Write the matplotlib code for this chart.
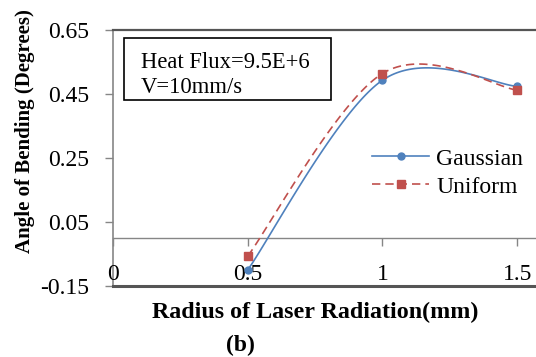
import numpy as np
import matplotlib
matplotlib.use("Agg")
import matplotlib.pyplot as plt
from matplotlib.patches import Rectangle

# data
radius = [0.5, 1.0, 1.5]
gaussian = [-0.10, 0.493, 0.474]
uniform = [-0.057, 0.514, 0.462]
yticks = [-0.15, 0.05, 0.25, 0.45, 0.65]
ytick_labels = ["-0.15", "0.05", "0.25", "0.45", "0.65"]
xticks = [0, 0.5, 1, 1.5]
xtick_labels = ["0", "0.5", "1", "1.5"]


def smooth(x, y, n=60):
    # Excel-like smoothed line: cubic bezier through points, tension 1/6
    x = np.asarray(x, float)
    y = np.asarray(y, float)
    pts = np.column_stack([x, y])
    out = []
    for i in range(len(pts) - 1):
        p0 = pts[i - 1] if i > 0 else pts[i]
        p1 = pts[i]
        p2 = pts[i + 1]
        p3 = pts[i + 2] if i + 2 < len(pts) else pts[i + 1]
        c1 = p1 + (p2 - p0) / 6
        c2 = p2 - (p3 - p1) / 6
        t = np.linspace(0, 1, n)[:, None]
        seg = ((1 - t) ** 3) * p1 + 3 * ((1 - t) ** 2) * t * c1 + 3 * (1 - t) * t ** 2 * c2 + t ** 3 * p2
        out.append(seg)
    seg = np.vstack(out)
    return seg[:, 0], seg[:, 1]


plt.rcParams['font.family'] = ['Liberation Serif', 'DejaVu Serif']

blue = '#4F81BD'
red = '#C0504D'
grey = '#868686'

fig = plt.figure(figsize=(5.36, 3.57), dpi=100)
ax = fig.add_axes([0.2108, 0.199, 0.7892, 0.717])
ax.set_xlim(0, 1.57)
ax.set_ylim(-0.15, 0.65)

gx, gy = smooth(radius, gaussian)
ux, uy = smooth(radius, uniform)
ax.plot(gx, gy, color=blue, lw=1.2, zorder=3)
ax.plot(radius, gaussian, 'o', color=blue, ms=5, zorder=4)
ax.plot(ux, uy, color=red, lw=1.2, ls=(0, (5, 3)), zorder=3)
ax.plot(radius, uniform, 's', color=red, ms=6, zorder=4)

# spines
ax.spines['right'].set_visible(False)
ax.spines['top'].set_color('#555555')
ax.spines['top'].set_linewidth(1.6)
ax.spines['left'].set_color(grey)
ax.spines['left'].set_linewidth(1.2)
ax.spines['bottom'].set_position(('data', 0))
ax.spines['bottom'].set_color(grey)
ax.spines['bottom'].set_linewidth(1.0)
ax.axhline(-0.15, color='#555555', lw=2.2, clip_on=False, zorder=5)

ax.set_yticks(yticks)
ax.set_yticklabels(ytick_labels, fontsize=17)
ax.tick_params(axis='y', direction='out', length=6, color=grey, width=1.0, pad=11)
ax.set_xticks(xticks)
ax.set_xticklabels([])
ax.tick_params(axis='x', direction='out', length=6, color=grey, width=1.0)

for xv, lab in zip(xticks, xtick_labels):
    ax.text(xv, -0.148, lab, ha='center', va='bottom', fontsize=17)

fig.text(0.047, 0.633, "Angle of Bending (Degrees)", rotation=90, ha='center', va='center',
         fontsize=15, fontweight='bold')
fig.text(0.588, 0.126, "Radius of Laser Radiation(mm)", ha='center', va='center',
         fontsize=17.3, fontweight='bold')
fig.text(0.448, 0.033, "(b)", ha='center', va='center', fontsize=17, fontweight='bold')

# annotation box
fig.patches.append(Rectangle((0.2313, 0.7199), 0.3862, 0.1737, transform=fig.transFigure,
                             fc='white', ec='black', lw=1.2, zorder=6))
fig.text(0.263, 0.79, "Heat Flux=9.5E+6\nV=10mm/s", ha='left', va='center',
         fontsize=16.3, linespacing=1.22, zorder=7)

leg_handles = [
    plt.Line2D([], [], color=blue, lw=1.2, marker='o', ms=5),
    plt.Line2D([], [], color=red, lw=1.2, ls=(0, (5, 3)), marker='s', ms=6),
]
ax.legend(leg_handles, ["Gaussian", "Uniform"], loc='center left',
          bbox_to_anchor=(0.585, 0.442), frameon=False, fontsize=17,
          handlelength=2.4, handletextpad=0.3, labelspacing=0.28,
          borderpad=0.0)

fig.savefig("out.png", dpi=100)
